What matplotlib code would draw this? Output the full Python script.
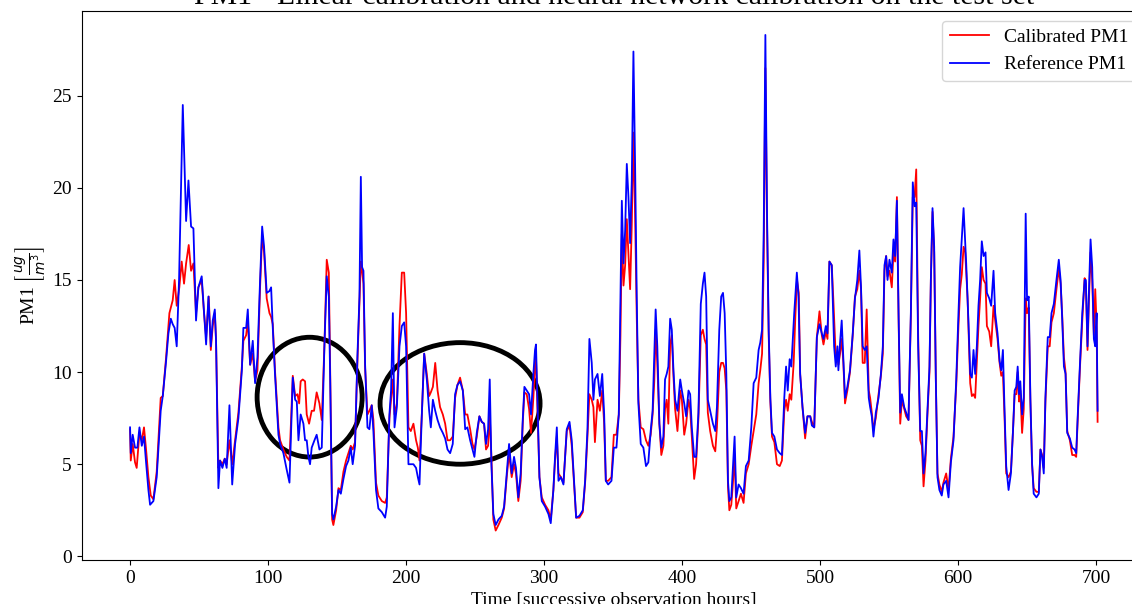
import matplotlib
matplotlib.use('Agg')
import matplotlib.pyplot as plt
from matplotlib.patches import Ellipse

# Values (hour, PM1 in ug/m3)
ref_hours = [
    0, 0.5, 1.9, 3.6, 5.3, 6.8, 8.5, 10.1, 11.6, 13.3, 14.5, 16.9, 19.3, 22.2, 23.7,
    26.1, 27.8, 29.5, 30.9, 32.3, 33.8, 35.5, 38.2, 40.6, 42.3, 44.2, 45.9, 47.8, 49.5,
    51.9, 53.6, 55.1, 56.8, 58.5, 59.9, 61.4, 62.3, 64.0, 65.2, 66.9, 68.6, 70.0, 72.0,
    74.0, 76.1, 78.5, 81.0, 82.1, 84.1, 85.3, 87.0, 88.9, 90.6, 92.3, 94.2, 95.7, 97.1,
    99.0, 101.0, 102.2, 103.4, 105.0, 107.5,
    108.7, 111.1, 113.5, 115.5, 117.9, 119.6, 120.8, 122.0, 123.6, 125.6, 126.8, 128.0,
    129.2, 130.4, 131.6, 133.6, 135.2, 137.2, 138.9, 140.8, 142.5, 144.0, 145.0, 146.4,
    147.3, 149.3, 151.0, 152.7, 154.6, 156.5, 158.2, 159.9, 161.3, 163.0, 164.7, 166.2,
    167.2, 168.1, 169.1, 170.3, 172.0, 173.4, 175.1, 176.3, 178.2, 179.9, 182.4, 184.8,
    186.0, 187.9, 189.1, 190.4, 191.6, 193.3, 195.2, 196.9, 198.6, 200.0, 201.7, 203.4,
    205.3, 207.2, 208.5, 209.7, 211.4, 213.1, 215.0, 216.7, 217.9, 219.4, 221.1, 222.8,
    224.6, 226.6, 228.3, 230.0,
    231.9, 233.8, 235.5, 237.2, 239.1, 241.1, 242.8, 244.4, 246.4, 248.1, 249.5, 251.2,
    253.1, 254.8, 256.5, 257.9, 259.4, 260.6, 261.8, 263.2, 264.9, 266.9, 269.3, 271.0,
    272.9, 274.6, 276.5, 278.2, 279.6, 281.3, 283.0, 284.5, 285.7, 287.4, 289.1, 290.5,
    292.2, 293.4, 294.1, 295.4, 296.6, 298.3, 300.7, 303.1, 304.8, 306.7, 307.9, 309.2,
    310.4, 312.1, 314.0, 316.4, 318.4, 320.0, 321.7, 323.2, 325.6, 328.0, 329.7, 331.4,
    332.8, 334.5, 335.7, 336.8, 338.7, 340.4, 342.1, 343.5, 344.7, 346.4, 348.8, 350.5,
    352.4, 354.1, 355.3,
    356.3, 357.5, 358.7, 359.9, 361.1, 362.3, 363.5, 364.7, 365.9, 367.1, 368.3, 370.0,
    371.9, 373.8, 375.5, 377.2, 378.6, 379.8, 380.8, 382.0, 383.5, 384.9, 386.4, 387.6,
    388.8, 390.0, 391.3, 392.5, 393.7, 394.9, 396.6, 398.6, 399.8, 401.5, 402.9, 404.6,
    405.8, 407.0, 408.7, 410.1, 411.8, 413.5, 415.0, 416.2, 417.4, 418.6, 420.3, 422.3,
    424.0, 425.2, 426.9, 428.3, 429.6, 430.8, 432.0, 433.2, 434.2, 435.6, 436.8, 438.0,
    439.2, 440.9, 442.6, 444.5, 446.2, 448.2, 450.1, 451.8, 453.7, 455.4, 456.6, 457.9,
    459.1, 460.3, 461.5, 462.7, 463.9, 465.1, 466.8, 468.7, 470.7, 472.3, 474.0, 475.3,
    476.5, 477.9, 479.1,
    481.2, 483.1, 484.3, 485.5, 487.2, 489.1, 490.8, 492.8, 494.0, 495.7, 497.6, 499.5,
    501.2, 502.4, 504.1, 505.3, 506.7, 508.4, 510.1, 511.3, 512.5, 513.2, 514.4, 515.6,
    516.8, 518.0, 519.7, 521.6, 523.6, 525.2, 526.9, 528.4, 529.6, 530.8, 532.3, 533.7,
    535.2, 536.2, 537.4, 538.6, 540.3, 542.3, 544.0, 545.4, 546.6, 547.8, 548.8, 550.2,
    551.9, 553.1, 554.3, 555.6, 556.8, 558.0, 559.2, 560.9, 562.3, 564.0, 565.7, 567.1,
    568.4, 569.6, 571.0, 572.5, 573.7, 574.9, 576.3, 577.8, 579.2, 580.2, 581.4, 582.6,
    583.8, 585.0, 586.4, 588.1, 589.3, 591.3, 593.0, 594.7, 596.6, 598.6, 600.2, 601.4,
    603.9, 605.8, 607.5, 608.7, 609.9, 611.1, 612.3, 613.5, 614.7, 615.9, 617.1, 618.4,
    619.8, 620.8, 622.5, 623.9, 625.6, 626.8, 628.5, 630.0, 631.2, 632.4, 633.6, 634.8,
    636.5, 638.2, 639.7, 640.9, 642.1, 643.1, 644.1, 645.0, 646.3, 647.5, 648.9, 649.9,
    651.1, 652.3, 653.5, 654.7, 656.7, 658.4, 659.6, 660.8, 662.0, 663.2, 664.9, 666.3,
    667.6, 669.3, 671.2, 672.9, 674.2, 675.4, 676.6, 677.8, 679.0, 680.9, 682.6, 684.3,
    685.5, 686.7, 688.2, 689.9, 691.6, 692.5, 693.7, 694.7, 695.9, 697.1, 698.3, 699.3,
    700.3, 701.0,
]
ref_pm1 = [
    7.0, 5.6, 6.6, 5.9, 5.9, 7.0, 6.0, 6.5, 5.1, 3.6, 2.8, 3.0, 4.3, 7.9, 8.7,
    10.6, 12.1, 12.9, 12.6, 12.4, 11.4, 15.0, 24.5, 18.2, 20.4, 17.9, 17.8, 12.8, 14.6,
    15.2, 13.2, 11.5, 14.1, 11.4, 12.8, 13.4, 11.7, 3.7, 5.2, 4.8, 5.3, 4.8, 8.2,
    3.9, 6.1, 7.5, 10.1, 12.4, 12.4, 13.4, 10.4, 11.7, 9.4, 10.8, 15.0, 17.9, 16.8,
    14.3, 14.4, 14.6, 12.4, 9.9, 6.6,
    6.1, 5.6, 4.7, 4.0, 9.7, 8.5, 8.4, 6.3, 7.7, 7.2, 6.3, 6.3,
    5.4, 5.0, 5.9, 6.3, 6.6, 5.8, 5.9, 11.4, 15.2, 14.1, 9.6, 2.3,
    2.0, 2.7, 3.6, 3.4, 4.2, 4.9, 5.2, 5.9, 5.0, 6.0, 10.8, 14.1,
    20.6, 15.7, 15.5, 10.4, 7.0, 6.9, 8.2, 6.8, 3.6, 2.6, 2.4, 2.1,
    2.7, 7.7, 9.0, 13.2, 7.0, 8.1, 11.4, 12.5, 12.7, 11.4, 5.0, 5.0,
    5.0, 4.8, 4.3, 3.9, 7.7, 11.0, 9.6, 7.9, 7.0, 8.5, 7.9, 7.4,
    7.0, 6.7, 6.4, 5.8,
    5.6, 6.1, 8.8, 9.3, 9.5, 9.0, 6.9, 7.0, 6.3, 5.8, 5.4, 6.7,
    7.6, 7.3, 7.2, 6.1, 6.9, 9.6, 5.0, 2.3, 1.7, 2.0, 2.2, 2.7,
    4.5, 6.1, 4.5, 5.4, 4.8, 3.2, 4.5, 7.4, 9.2, 9.0, 8.8, 7.7,
    9.9, 11.2, 11.5, 7.7, 4.3, 3.0, 2.7, 2.3, 1.8, 3.6, 5.4, 7.0,
    4.1, 4.3, 3.9, 6.9, 7.3, 6.3, 4.1, 2.1, 2.2, 2.5, 4.1, 6.9,
    11.8, 10.5, 8.5, 9.6, 9.9, 8.7, 9.9, 7.7, 4.1, 3.9, 4.1, 5.9,
    5.9, 7.7, 14.1,
    19.3, 15.9, 17.7, 21.3, 19.5, 17.0, 20.4, 27.4, 21.3, 14.1, 8.3, 6.1,
    5.9, 4.9, 5.1, 6.8, 7.9, 10.8, 13.4, 11.4, 7.2, 5.9, 6.5, 9.6,
    9.9, 10.3, 12.9, 12.3, 10.1, 8.5, 7.9, 9.6, 9.0, 8.3, 7.6, 9.0,
    8.8, 7.0, 5.4, 5.4, 7.8, 13.7, 14.8, 15.4, 14.1, 8.5, 7.9, 7.2,
    6.8, 8.1, 12.3, 14.1, 14.3, 13.2, 9.9, 4.1, 3.0, 3.2, 4.9, 6.5,
    3.2, 3.9, 3.7, 3.4, 4.9, 5.2, 7.0, 9.4, 9.7, 11.2, 11.6, 12.3,
    17.7, 28.3, 18.6, 12.3, 8.6, 6.7, 6.5, 5.8, 5.6, 5.5, 8.6, 10.3,
    9.0, 10.7, 10.3,
    13.2, 15.4, 14.1, 9.9, 8.1, 6.7, 7.6, 7.6, 7.1, 7.0, 11.9, 12.6,
    12.1, 11.8, 12.5, 12.1, 16.0, 15.8, 11.4, 10.3, 11.4, 10.1, 11.6, 12.8,
    10.7, 8.6, 9.2, 10.1, 12.1, 14.0, 15.0, 16.6, 14.6, 11.4, 11.2, 11.4,
    8.6, 8.1, 7.6, 6.5, 7.8, 8.6, 9.9, 11.4, 15.8, 16.3, 15.0, 16.1,
    15.4, 17.2, 16.3, 19.3, 13.2, 7.8, 8.8, 8.1, 7.8, 7.4, 13.2, 20.3,
    19.0, 19.2, 11.4, 6.8, 6.8, 4.5, 5.6, 8.1, 10.3, 15.0, 18.9, 16.8,
    9.6, 4.3, 3.6, 3.3, 3.9, 4.1, 3.2, 5.1, 6.3, 9.6, 13.2, 15.7,
    18.9, 15.9, 12.6, 9.9, 9.7, 11.2, 9.9, 11.4, 13.6, 15.0, 17.1, 16.3,
    16.5, 14.3, 14.0, 13.6, 15.5, 13.2, 12.1, 10.6, 10.1, 11.2, 7.9, 4.9,
    3.6, 4.5, 6.8, 9.0, 9.2, 10.3, 8.8, 9.5, 7.7, 8.6, 18.6, 13.9,
    14.1, 8.6, 5.1, 3.4, 3.2, 3.4, 5.8, 5.4, 4.5, 8.6, 11.9, 11.9,
    13.2, 13.7, 15.0, 16.1, 15.0, 12.8, 10.3, 9.9, 6.7, 6.4, 5.9, 5.8,
    5.6, 7.8, 10.4, 13.2, 15.0, 15.0, 11.4, 14.3, 17.2, 15.7, 11.8, 11.4,
    13.2, 7.9,
]

calib_hours = [
    0, 0.5, 1.9, 3.6, 4.8, 6.8, 8.5, 10.1, 11.6, 13.3, 15.0, 16.9, 19.3, 22.2, 23.7,
    26.1, 28.5, 30.9, 32.3, 33.8, 35.7, 37.4, 39.1, 40.6, 42.5, 44.2, 45.9, 47.8, 49.5,
    51.9, 53.6, 55.1, 57.0, 58.5, 59.9, 61.4, 62.3, 64.0, 65.2, 66.9, 68.6, 70.0, 72.0,
    74.0, 76.1, 78.5, 81.0, 82.1, 84.1, 85.3, 87.0, 88.9, 90.6, 92.3, 94.2, 95.7, 97.1,
    99.0, 101.0, 102.2, 103.4, 105.0, 107.5,
    108.7, 111.1, 113.5, 115.5, 117.9, 119.6, 121.3, 122.5, 123.6, 125.1, 126.8, 128.0,
    129.7, 131.6, 133.3, 135.2, 137.2, 138.9, 140.8, 142.5, 144.0, 145.0, 146.4, 147.3,
    149.3, 151.0, 152.7, 154.6, 156.5, 158.2, 159.9, 161.3, 163.0, 164.7, 166.2, 167.2,
    168.1, 169.1, 170.3, 172.0, 173.4, 175.1, 176.3, 178.2, 179.9, 182.4, 184.8, 186.0,
    187.9, 189.1, 190.4, 191.6, 193.3, 195.2, 196.9, 198.6, 200.0, 201.7, 203.4, 205.3,
    207.2, 208.5, 209.7, 211.4, 213.1, 215.0, 216.7, 217.9, 219.4, 221.1, 222.8, 224.6,
    226.6, 228.3, 230.0,
    231.9, 233.8, 235.5, 237.2, 239.1, 241.1, 242.8, 244.4, 246.4, 248.1, 249.5, 251.2,
    253.1, 254.8, 256.5, 257.9, 259.4, 260.6, 261.8, 263.2, 264.9, 266.9, 269.3, 271.0,
    272.9, 274.6, 276.5, 278.2, 279.6, 281.3, 283.0, 284.5, 285.7, 287.4, 289.1, 290.5,
    292.2, 293.4, 294.1, 295.4, 296.6, 298.3, 300.7, 303.1, 304.8, 306.7, 307.9, 309.2,
    310.4, 312.1, 314.0, 316.4, 318.4, 320.0, 321.7, 323.2, 325.6, 328.0, 329.7, 331.4,
    332.8, 334.5, 335.7, 336.8, 338.7, 340.4, 342.1, 343.5, 344.7, 346.4, 348.8, 350.5,
    352.4, 354.1, 355.3,
    356.3, 357.5, 358.7, 359.9, 361.1, 362.3, 363.5, 364.7, 365.9, 367.1, 368.3, 370.0,
    371.9, 373.8, 375.5, 377.2, 378.6, 379.8, 380.8, 382.0, 383.5, 384.9, 386.4, 387.6,
    388.8, 390.0, 391.3, 392.5, 393.7, 394.9, 396.6, 398.6, 399.8, 401.5, 402.9, 404.6,
    405.8, 407.0, 408.7, 410.1, 411.8, 413.5, 415.0, 416.2, 417.4, 418.6, 420.3, 422.3,
    424.0, 425.2, 426.9, 428.3, 429.6, 430.8, 432.0, 433.2, 434.2, 435.6, 436.8, 438.0,
    439.2, 440.9, 442.6, 444.5, 446.2, 448.2, 450.1, 451.8, 453.7, 455.4, 456.6, 457.9,
    459.1, 460.3, 461.5, 462.7, 463.9, 465.1, 466.8, 468.7, 470.7, 472.3, 474.0, 475.3,
    476.5, 477.9, 479.1, 480.8,
    482.0, 483.2, 484.5, 485.5, 487.2, 489.1, 490.8, 492.8, 494.0, 495.7, 497.6, 499.5,
    501.2, 502.4, 504.1, 505.3, 506.7, 508.4, 509.5, 511.3, 512.5, 513.2, 514.4, 515.6,
    516.8, 518.0, 519.7, 521.6, 523.6, 525.2, 526.9, 528.4, 529.6, 530.8, 532.3, 533.7,
    535.2, 536.2, 537.4, 538.6, 540.3, 542.3, 544.0, 545.4, 546.6, 547.8, 548.8, 550.2,
    551.9, 553.1, 554.3, 555.6, 556.8, 558.0, 559.2, 560.9, 562.3, 564.0, 565.7, 567.1,
    568.4, 569.6, 571.0, 572.5, 573.7, 574.9, 576.3, 577.8, 579.2, 580.2, 581.4, 582.6,
    583.8, 585.0, 586.4, 588.1, 589.3, 591.3, 593.0, 594.7, 596.6, 598.6, 600.2, 601.4,
    602.6, 603.9, 605.1, 606.8, 608.7, 609.9, 611.1, 612.3, 613.5, 614.7, 615.9, 617.1,
    618.4, 619.8, 620.8, 622.5, 623.9, 625.6, 626.8, 628.5, 630.0, 631.2, 632.4, 633.6,
    634.8, 636.5, 638.2, 639.7, 640.9, 642.1, 643.1, 644.1, 645.0, 646.3, 647.5, 648.9,
    649.9, 651.1, 652.3, 653.5, 654.7, 656.7, 658.4, 659.6, 660.8, 662.0, 663.2, 664.9,
    666.3, 667.6, 669.3, 671.2, 672.9, 674.2, 675.4, 676.6, 677.8, 679.0, 680.9, 682.6,
    684.3, 685.5, 686.7, 688.2, 689.9, 691.6, 692.5, 693.7, 694.7, 695.9, 697.1, 698.3,
    699.3, 700.3, 701.0,
]
calib_pm1 = [
    6.9, 5.2, 6.1, 5.1, 4.8, 6.7, 6.3, 7.0, 5.8, 4.3, 3.3, 3.1, 4.6, 8.6, 8.7,
    10.8, 13.2, 13.9, 15.0, 13.6, 14.6, 16.0, 14.8, 15.9, 16.9, 15.5, 15.9, 13.2, 14.6,
    15.0, 13.2, 11.9, 14.1, 11.2, 12.5, 13.2, 11.7, 4.8, 5.2, 5.0, 5.3, 5.0, 6.3,
    5.0, 6.3, 7.8, 10.3, 11.7, 12.0, 12.8, 10.4, 11.0, 9.5, 10.1, 14.6, 17.4, 16.5,
    14.0, 13.2, 13.0, 12.6, 10.1, 7.0,
    6.3, 5.8, 5.4, 5.2, 9.8, 8.7, 8.8, 8.3, 9.5, 9.6, 9.5, 7.7,
    7.2, 7.9, 7.9, 8.9, 8.3, 7.4, 11.4, 16.1, 15.4, 10.0, 2.0, 1.7,
    2.5, 3.7, 3.6, 4.6, 5.2, 5.6, 6.0, 5.8, 6.2, 10.5, 13.8, 16.0,
    15.5, 14.8, 10.2, 7.7, 7.9, 8.2, 7.4, 4.0, 3.3, 3.0, 2.9, 3.2,
    7.5, 8.5, 9.6, 7.7, 8.3, 12.5, 15.4, 15.4, 13.2, 7.0, 6.8, 7.2,
    6.3, 5.9, 5.2, 7.7, 11.0, 9.9, 8.7, 8.9, 9.2, 10.5, 9.0, 8.1,
    7.7, 7.2, 6.3,
    6.3, 6.5, 8.6, 9.3, 9.7, 9.0, 7.7, 7.7, 6.9, 6.1, 5.8, 6.5,
    7.6, 7.3, 7.2, 5.8, 6.0, 7.7, 5.4, 2.0, 1.4, 1.7, 2.1, 2.6,
    4.3, 5.6, 4.3, 5.0, 4.5, 3.0, 4.1, 7.2, 8.9, 8.8, 8.0, 6.7,
    8.6, 10.4, 10.8, 7.5, 4.3, 3.2, 2.8, 2.5, 2.0, 3.6, 5.2, 6.5,
    4.5, 4.3, 4.0, 6.8, 7.1, 6.0, 3.9, 2.1, 2.1, 2.4, 4.0, 6.5,
    8.8, 8.5, 8.1, 6.2, 8.5, 7.9, 9.0, 7.2, 4.1, 4.1, 4.3, 6.6,
    6.6, 7.7, 12.0,
    17.5, 14.7, 15.8, 18.3, 16.4, 14.5, 18.0, 23.0, 18.5, 13.0, 8.5, 7.0,
    6.9, 6.3, 6.0, 6.6, 7.7, 9.5, 12.3, 10.5, 7.2, 5.5, 6.0, 8.0,
    8.5, 7.2, 11.5, 12.0, 9.8, 8.0, 6.8, 9.0, 8.5, 6.6, 7.2, 8.5,
    8.0, 6.5, 4.2, 5.0, 7.5, 12.0, 12.3, 11.8, 11.5, 7.8, 6.8, 6.0,
    5.7, 7.0, 10.0, 10.5, 10.5, 10.2, 9.0, 3.8, 2.5, 2.8, 4.0, 5.5,
    2.6, 3.0, 3.4, 2.9, 4.5, 5.0, 6.0, 6.8, 7.7, 9.4, 10.1, 11.0,
    16.0, 26.5, 18.0, 12.0, 8.4, 6.5, 6.2, 5.0, 4.9, 5.2, 7.9, 8.5,
    7.9, 8.8, 8.5, 10.5,
    13.0, 15.0, 14.3, 9.9, 8.1, 6.4, 7.6, 7.6, 7.3, 7.0, 11.9, 13.3,
    12.0, 11.5, 12.2, 11.8, 16.0, 15.8, 14.0, 10.8, 11.0, 10.4, 11.0, 11.8,
    10.5, 8.3, 9.0, 10.0, 12.0, 14.1, 14.5, 15.5, 14.5, 10.5, 10.5, 13.4,
    9.0, 8.6, 7.8, 6.9, 7.5, 8.8, 9.8, 11.0, 15.5, 16.3, 15.2, 15.5,
    14.6, 16.5, 16.0, 19.5, 13.0, 7.2, 8.5, 8.0, 7.6, 7.4, 13.0, 19.5,
    19.5, 21.0, 12.0, 6.3, 6.0, 3.8, 5.2, 7.8, 10.0, 15.0, 18.7, 16.5,
    9.6, 4.5, 3.9, 3.5, 4.0, 4.5, 3.6, 5.3, 6.5, 9.3, 12.5, 14.5,
    15.3, 16.8, 16.5, 14.0, 9.4, 8.7, 8.8, 8.6, 10.5, 12.5, 14.0, 15.7,
    15.0, 14.8, 12.5, 12.2, 11.4, 13.6, 12.8, 11.8, 10.5, 9.8, 10.0, 7.5,
    4.5, 4.3, 4.6, 6.8, 8.8, 8.8, 10.0, 8.4, 9.0, 6.7, 8.0, 14.0,
    13.2, 13.5, 8.4, 5.0, 3.7, 3.5, 3.5, 5.8, 5.5, 4.8, 8.4, 11.4,
    11.4, 12.7, 13.2, 14.5, 15.6, 14.8, 13.0, 10.8, 10.0, 6.8, 6.3, 5.5,
    5.5, 5.4, 7.6, 10.2, 12.8, 15.1, 14.8, 11.2, 13.8, 16.5, 15.0, 12.0,
    14.5, 12.5, 7.3,
]

plt.rcParams['font.family'] = ['Liberation Serif', 'DejaVu Serif']

fig = plt.figure(figsize=(11.32, 6.04), dpi=100)
ax = fig.add_axes([0.0721, 0.0728, 0.9403, 0.909])

ax.plot(calib_hours, calib_pm1, color='red', lw=1.3, label='Calibrated PM1')
ax.plot(ref_hours, ref_pm1, color='blue', lw=1.3, label='Reference PM1')

# circled regions where the calibration overestimates
ax.add_patch(Ellipse((130.1, 8.64), 76.1, 6.5, fill=False, ec='black', lw=3.5))
ax.add_patch(Ellipse((239.1, 8.3), 115.9, 6.6, fill=False, ec='black', lw=3.5))

ax.set_xlim(-35.1, 736.1)
ax.set_ylim(-0.2, 29.6)
ax.tick_params(labelsize=14)
ax.set_title('PM1 - Linear calibration and neural network calibration on the test set',
             fontsize=21.5, pad=5)
ax.set_xlabel('Time [successive observation hours]', fontsize=14)
ax.set_ylabel(r'PM1 $\left[\frac{ug}{m^3}\right]$', fontsize=14)
ax.legend(loc='upper right', fontsize=14)

fig.savefig('out.png', dpi=100)
